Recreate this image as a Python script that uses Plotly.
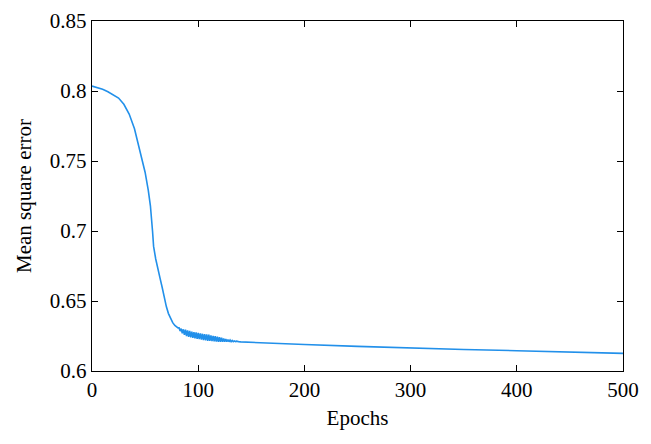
import plotly.graph_objects as go

epochs = [0, 5, 10, 15, 20, 25, 30, 35, 40, 45, 50, 53, 55, 57, 58, 60, 62, 64, 66, 68, 70, 72, 74, 76, 78, 80, 81,
          82, 83, 84, 85, 86, 87, 88, 89, 90, 91, 92, 93, 94, 95, 96, 97, 98, 99,
          100, 101, 102, 103, 104, 105, 106, 107, 108, 109, 110, 111, 112, 113, 114, 115, 116, 117, 118, 119,
          120, 121, 122, 123, 124, 125, 126, 127, 128, 129, 130, 131, 132, 133, 134, 135, 136, 137, 138, 140,
          150, 175, 200, 250, 300, 350, 400, 450, 500]
mse = [0.8035, 0.8025, 0.8012, 0.7995, 0.7975, 0.7950, 0.7905, 0.7835, 0.7730, 0.7580, 0.7420, 0.7290, 0.7180,
       0.7000, 0.6890, 0.6800, 0.6720, 0.6665, 0.6600, 0.6520, 0.6460, 0.6410, 0.6370, 0.6345, 0.6325, 0.6312, 0.6308,
       0.6308, 0.6285, 0.6303, 0.6270, 0.6298, 0.6259, 0.6295, 0.6250, 0.6290, 0.6244, 0.6286, 0.6240, 0.6282,
       0.6236, 0.6278, 0.6233, 0.6275, 0.6230,
       0.6272, 0.6227, 0.6269, 0.6224, 0.6266, 0.6221, 0.6264, 0.6219, 0.6261, 0.6216, 0.6259, 0.6215, 0.6255,
       0.6213, 0.6251, 0.6211, 0.6248, 0.6210, 0.6245, 0.6209,
       0.6241, 0.6209, 0.6237, 0.6209, 0.6233, 0.6209, 0.6229, 0.6209, 0.6225, 0.6209, 0.6221, 0.6209, 0.6218,
       0.6210, 0.6215, 0.6210, 0.6213, 0.6209, 0.6210, 0.6208,
       0.6204, 0.6196, 0.6189, 0.6176, 0.6163, 0.6154, 0.6145, 0.6135, 0.6126]

x_ticks = [0, 100, 200, 300, 400, 500]
x_tick_labels = ["0", "100", "200", "300", "400", "500"]
y_ticks = [0.6, 0.65, 0.7, 0.75, 0.8, 0.85]
y_tick_labels = ["0.6", "0.65", "0.7", "0.75", "0.8", "0.85"]

font_family = "Liberation Serif"

fig = go.Figure()
fig.add_trace(go.Scatter(x=epochs, y=mse, mode="lines",
                         line=dict(color="#2290ea", width=1.6), showlegend=False))

axis_common = dict(showline=True, linecolor="black", linewidth=1.4, mirror="ticks",
                   ticks="inside", ticklen=6, tickwidth=1.2, tickcolor="black",
                   showgrid=False, zeroline=False, automargin=False,
                   tickfont=dict(family=font_family, size=21, color="black"))

fig.update_xaxes(range=[0, 500], tickvals=x_ticks, ticktext=x_tick_labels,
                 title=dict(text="Epochs", font=dict(family=font_family, size=21, color="black"), standoff=8),
                 **axis_common)
fig.update_yaxes(range=[0.6, 0.85], tickvals=y_ticks, ticktext=y_tick_labels,
                 title=dict(text="Mean square error", font=dict(family=font_family, size=21, color="black"), standoff=12),
                 **axis_common)

fig.update_layout(width=643, height=436,
                  margin=dict(l=84, r=28, t=13, b=73),
                  paper_bgcolor="white", plot_bgcolor="white")

fig.write_html("out.html")
